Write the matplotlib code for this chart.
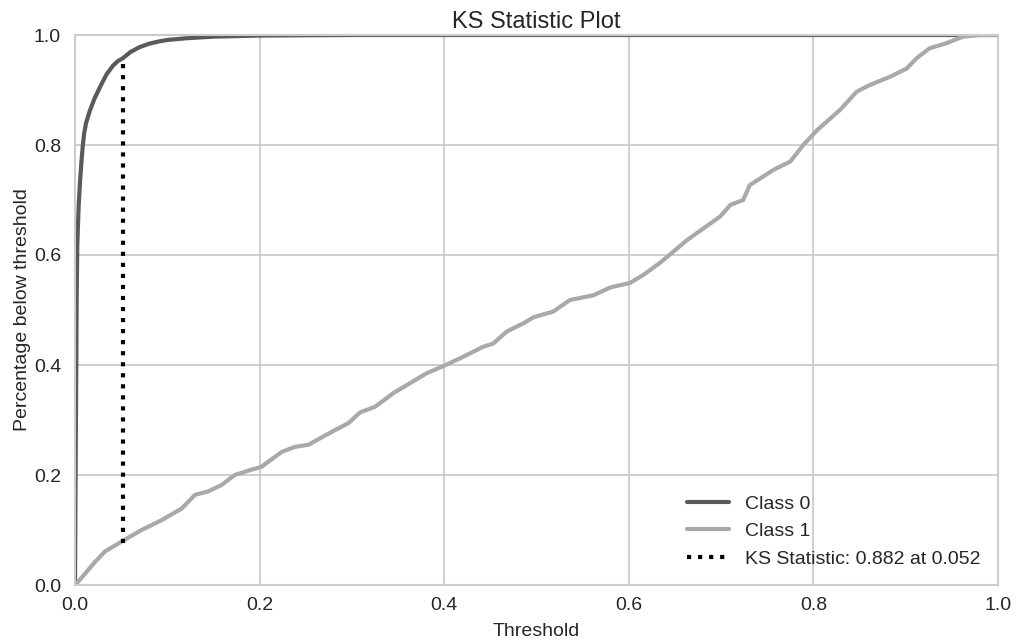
import matplotlib
matplotlib.use('agg')
import numpy as np
import matplotlib.pyplot as plt

# class 0 curve (fraction below threshold)
c0_x = [0.0, 0.0007, 0.0014, 0.0018, 0.0025, 0.004, 0.0055, 0.007, 0.0085, 0.010, 0.012,
        0.016, 0.021, 0.027, 0.034, 0.041, 0.046, 0.052, 0.06, 0.07, 0.08, 0.09, 0.1,
        0.12, 0.15, 0.2, 0.3, 1.0]
c0_y = [0.0, 0.22, 0.40, 0.524, 0.62, 0.69, 0.735, 0.77, 0.80, 0.822, 0.84,
        0.862, 0.884, 0.905, 0.928, 0.944, 0.952, 0.958, 0.969, 0.978, 0.984, 0.988, 0.991,
        0.994, 0.997, 0.999, 1.0, 1.0]

# class 1 curve
c1_x = [0.0, 0.005, 0.0217, 0.0325, 0.0506, 0.072, 0.094, 0.1156, 0.13, 0.144, 0.159,
        0.173, 0.188, 0.202, 0.224, 0.238, 0.253, 0.282, 0.296, 0.309, 0.325, 0.345,
        0.381, 0.399, 0.417, 0.442, 0.453, 0.468, 0.486, 0.497, 0.518, 0.536, 0.562,
        0.580, 0.601, 0.616, 0.634, 0.663, 0.699, 0.710, 0.724, 0.731, 0.757, 0.775,
        0.789, 0.804, 0.829, 0.847, 0.861, 0.883, 0.901, 0.912, 0.926, 0.944, 0.962,
        0.980, 1.0]
c1_y = [0.0, 0.009, 0.042, 0.061, 0.079, 0.10, 0.118, 0.139, 0.164, 0.17, 0.182,
        0.20, 0.208, 0.215, 0.242, 0.251, 0.255, 0.282, 0.294, 0.314, 0.324, 0.349,
        0.385, 0.398, 0.412, 0.433, 0.439, 0.461, 0.476, 0.487, 0.497, 0.518, 0.527,
        0.541, 0.549, 0.564, 0.586, 0.627, 0.670, 0.691, 0.700, 0.727, 0.755, 0.770,
        0.800, 0.827, 0.864, 0.897, 0.909, 0.924, 0.939, 0.958, 0.976, 0.985, 0.997,
        1.0, 1.0]

ks_stat = 0.882
ks_thresh = 0.052
ks_lo = 0.076
ks_hi = 0.958

plt.style.use('seaborn-v0_8-whitegrid')
plt.rcParams['font.family'] = ['Liberation Sans', 'DejaVu Sans']

fig = plt.figure(figsize=(10.22, 6.43), dpi=100)
ax = fig.add_axes([75/1022, 1 - 585/643, 923/1022, 550/643])

ax.plot(c0_x, c0_y, lw=3, color='#5a5a5a', label='Class 0')
ax.plot(c1_x, c1_y, lw=3, color='#a9a9a9', label='Class 1')
ax.axvline(ks_thresh, ymin=ks_lo, ymax=ks_hi, linestyle=':', lw=3, color='black',
           label='KS Statistic: {:.3f} at {:.3f}'.format(ks_stat, ks_thresh))

ax.set_xlim(0.0, 1.0)
ax.set_ylim(0.0, 1.0)
ax.set_xticks(np.arange(0, 1.01, 0.2))
ax.set_yticks(np.arange(0, 1.01, 0.2))
ax.set_title('KS Statistic Plot', fontsize=17, color='#262626', pad=5)
ax.set_xlabel('Threshold', fontsize=14, color='#262626', labelpad=6)
ax.set_ylabel('Percentage below threshold', fontsize=14, color='#262626', labelpad=2)
ax.tick_params(axis='x', labelsize=14, colors='#262626', pad=9)
ax.tick_params(axis='y', labelsize=14, colors='#262626', pad=10)
for s in ax.spines.values():
    s.set_edgecolor('#cccccc')
    s.set_linewidth(1.5)
ax.grid(color='#cccccc', lw=1.3)
ax.legend(loc='lower right', fontsize=14, frameon=False, handlelength=2.2,
          labelspacing=0.5)

fig.savefig('out.png', dpi=100)
